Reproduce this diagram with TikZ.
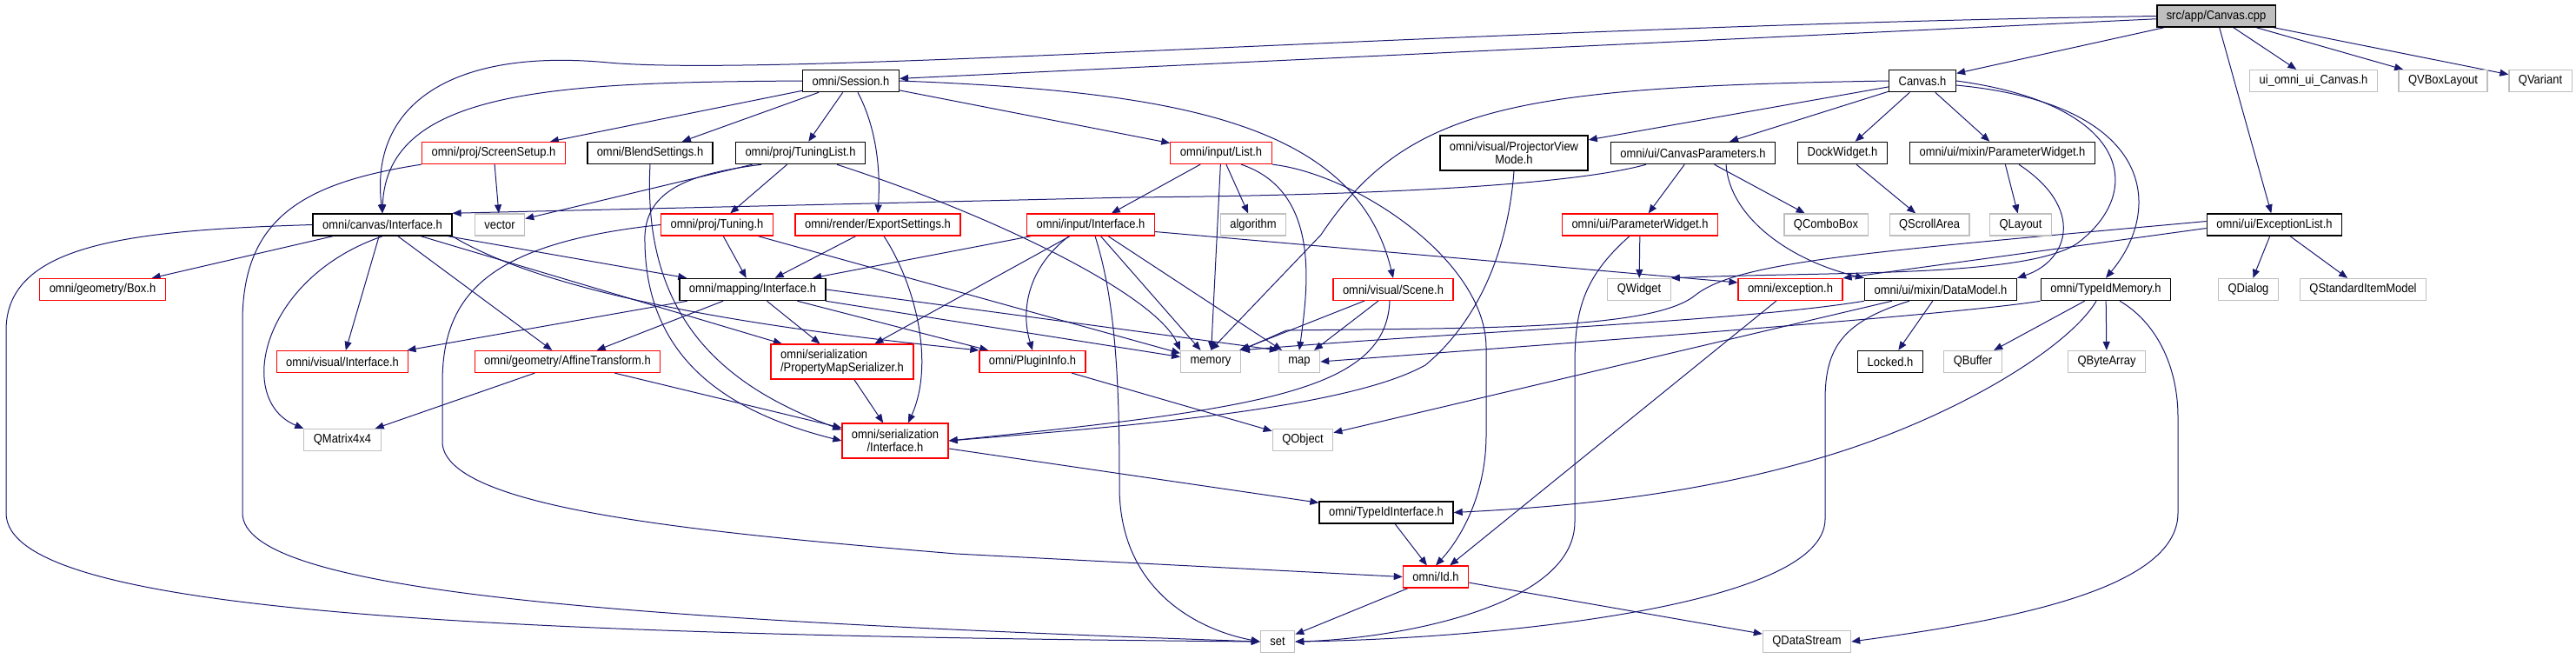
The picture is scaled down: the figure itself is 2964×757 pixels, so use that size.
\documentclass[tikz,border=0pt]{standalone}
\usepackage{fontspec}
\setmainfont{Liberation Sans}
\newfontfamily\depfont[FakeStretch=0.9]{Liberation Sans}
\usetikzlibrary{arrows.meta,calc}
\definecolor{depc}{RGB}{25,25,112}
\definecolor{sysc}{RGB}{191,191,191}
\pgfdeclarelayer{bg}
\pgfsetlayers{bg,main}

\begin{document}
\begin{tikzpicture}[x=0.5pt,y=-0.5pt,
  hfile/.style={draw,fill=white,line width=0.6pt,minimum height=12.5pt,inner xsep=5.5pt,inner ysep=1pt,font=\depfont\fontsize{7.2}{7.4}\selectfont},
  hdr/.style={hfile,draw=black,line width=0.75pt},
  trunc/.style={hfile,draw=red},
  sys/.style={hfile,draw=sysc},
  root/.style={hfile,draw=black,fill=sysc,line width=0.75pt},
  two/.style={minimum height=20pt,align=center},
  dep/.style={draw=depc,line width=0.5pt,-{Triangle[length=5pt,width=4pt]}}]
\useasboundingbox (0,0) rectangle (2964,757);
\node[root] (cpp) at (2550,18.5) {src/app/Canvas.cpp};
\node[hdr] (sess) at (979,93) {omni/Session.h};
\node[hdr] (cvh) at (2212,93) {Canvas.h};
\node[sys] (uic) at (2662,93) {ui\_omni\_ui\_Canvas.h};
\node[sys] (vbox) at (2811,93) {QVBoxLayout};
\node[sys] (qvar) at (2923,93) {QVariant};
\node[trunc] (scr) at (568,176) {omni/proj/ScreenSetup.h};
\node[hdr] (blend) at (748,176) {omni/BlendSettings.h};
\node[hdr] (tlist) at (921,176) {omni/proj/TuningList.h};
\node[trunc] (ilist) at (1405,176) {omni/input/List.h};
\node[hdr,two] (pvm) at (1742,176) {omni/visual/ProjectorView\\Mode.h};
\node[hdr] (cpar) at (1948,176) {omni/ui/CanvasParameters.h};
\node[hdr] (dock) at (2120,176) {DockWidget.h};
\node[hdr] (mpw) at (2304,176) {omni/ui/mixin/ParameterWidget.h};
\node[hdr] (civ) at (440,258.5) {omni/canvas/Interface.h};
\node[sys] (vec) at (575,258.5) {vector};
\node[trunc] (tun) at (825,258.5) {omni/proj/Tuning.h};
\node[trunc] (exp) at (1010,258.5) {omni/render/ExportSettings.h};
\node[trunc] (iif) at (1255,258.5) {omni/input/Interface.h};
\node[sys] (alg) at (1442,258.5) {algorithm};
\node[trunc] (upw) at (1887,258.5) {omni/ui/ParameterWidget.h};
\node[sys] (qcb) at (2101,258.5) {QComboBox};
\node[sys] (qsa) at (2220,258.5) {QScrollArea};
\node[sys] (qlay) at (2325,258.5) {QLayout};
\node[hdr] (elist) at (2617,258.5) {omni/ui/ExceptionList.h};
\node[trunc] (box) at (118,333) {omni/geometry/Box.h};
\node[hdr] (mif) at (866,333) {omni/mapping/Interface.h};
\node[trunc] (scene) at (1603,333) {omni/visual/Scene.h};
\node[sys] (qwid) at (1886,333) {QWidget};
\node[trunc] (exc) at (2060,333) {omni/exception.h};
\node[hdr] (dmod) at (2233,333) {omni/ui/mixin/DataModel.h};
\node[hdr] (tim) at (2423,333) {omni/TypeIdMemory.h};
\node[sys] (qdlg) at (2587,333) {QDialog};
\node[sys] (qsim) at (2719,333) {QStandardItemModel};
\node[trunc] (vif) at (394,416) {omni/visual/Interface.h};
\node[trunc] (aff) at (653,416) {omni/geometry/AffineTransform.h};
\node[trunc,two,align=left] (pms) at (969,416) {omni/serialization\\/PropertyMapSerializer.h};
\node[trunc] (plug) at (1188,416) {omni/PluginInfo.h};
\node[sys] (mem) at (1393,416) {memory};
\node[sys] (map) at (1495,416) {map};
\node[hdr] (lock) at (2175,416) {Locked.h};
\node[sys] (qbuf) at (2270,416) {QBuffer};
\node[sys] (qba) at (2424,416) {QByteArray};
\node[sys] (qmat) at (394,506) {QMatrix4x4};
\node[trunc,two] (sif) at (1030,507) {omni/serialization\\/Interface.h};
\node[sys] (qobj) at (1499,506) {QObject};
\node[hdr] (tii) at (1595,589.5) {omni/TypeIdInterface.h};
\node[trunc] (id) at (1652,663.5) {omni/Id.h};
\node[sys] (set) at (1470,738) {set};
\node[sys] (qds) at (2079,738) {QDataStream};
\begin{pgfonlayer}{bg}
\foreach \a/\b in {cpp/sess,cpp/cvh,cpp/uic,cpp/vbox,cpp/qvar,cpp/elist,
  sess/scr,sess/blend,sess/tlist,sess/ilist,scr/vec,tlist/vec,tlist/tun,
  ilist/iif,ilist/alg,ilist/mem,cvh/pvm,cvh/cpar,cvh/dock,cvh/mpw,
  cpar/upw,cpar/qcb,dock/qsa,mpw/qlay,upw/qwid,elist/qdlg,elist/qsim,
  civ/box,civ/vif,civ/aff,civ/mif,civ/pms,tun/mif,tun/mem,exp/mif,
  iif/mif,iif/pms,iif/mem,iif/map,mif/vif,mif/aff,mif/pms,mif/plug,mif/mem,
  scene/mem,scene/map,dmod/lock,dmod/qobj,tim/qbuf,tim/qba,
  aff/qmat,aff/sif,pms/sif,plug/qobj,sif/tii,tii/id,exc/id,id/set,id/qds}
  \draw[dep] (\a) -- (\b);
\draw[dep] (cpp.west) .. controls (1700,30) and (900,90) .. (700,72) .. controls (520,55) and (425,120) .. (civ.north);
\draw[dep] (sess.west) .. controls (650,95) and (445,100) .. (civ.north);
\draw[dep] (sess.east) .. controls (1350,105) and (1560,140) .. (scene.north);
\draw[dep] ($(sess.south)+(8,0)$) .. controls (1010,150) and (1013,200) .. (exp.north);
\draw[dep] ($(tlist.south)+(-45,0)$) .. controls (790,200) and (745,220) .. (742,270) .. controls (740,400) and (820,470) .. (sif.west);
\draw[dep] (blend.south) .. controls (738,380) and (850,450) .. ($(sif.north west)+(0,8)$);
\draw[dep] ($(tlist.south)+(42,0)$) .. controls (1150,250) and (1330,340) .. (mem.north west);
\draw[dep] (civ.west) .. controls (150,265) and (7,280) .. (7,380) -- (7,590) .. controls (7,700) and (500,730) .. (set.west);
\draw[dep] (scr.south west) .. controls (350,210) and (279,250) .. (279,370) -- (279,590) .. controls (279,680) and (700,712) .. (set.west);
\draw[dep] (civ.south) .. controls (300,320) and (270,460) .. (qmat.north west);
\draw[dep] (civ.south east) .. controls (650,350) and (950,385) .. (plug.north west);
\draw[dep] (tun.west) .. controls (560,280) and (509,340) .. (509,440) -- (509,510) .. controls (515,585) and (800,612) .. (1100,637) -- (id.west);
\draw[dep] ($(exp.south)+(7,0)$) .. controls (1055,330) and (1075,420) .. ($(sif.north)+(15,0)$);
\draw[dep] ($(ilist.south)+(23,0)$) .. controls (1520,220) and (1505,330) .. (map.north);
\draw[dep] (ilist.south east) .. controls (1560,200) and (1710,300) .. (1710,400) -- (1710,500) .. controls (1710,570) and (1680,620) .. (id.north);
\draw[dep] ($(iif.south)+(-25,0)$) .. controls (1180,310) and (1175,360) .. (plug.north);
\draw[dep] ($(iif.south)+(5,0)$) .. controls (1285,350) and (1288,450) .. (1288,560) .. controls (1288,680) and (1380,725) .. (set.west);
\draw[dep] ($(iif.east)+(0,8)$) -- ($(exc.west)+(0,-8)$);
\draw[dep] (mif.east) -- (map.north west);
\draw[dep] (cvh.west) .. controls (1750,100) and (1620,120) .. (1520,270) -- (mem.north);
\draw[dep] (cvh.east) .. controls (2450,120) and (2470,220) .. (2390,280) .. controls (2330,320) and (2100,312) .. (qwid.north east);
\draw[dep] ($(cvh.east)+(0,5)$) .. controls (2480,120) and (2490,240) .. (tim.north);
\draw[dep] ($(mpw.south)+(19,0)$) .. controls (2400,240) and (2380,300) .. (dmod.north east);
\draw[dep] ($(cpar.south)+(-54,0)$) .. controls (1800,215) and (1550,225) .. (1300,227) -- (civ.north east);
\draw[dep] ($(cpar.south)+(38,0)$) .. controls (1990,250) and (2060,300) .. (dmod.north west);
\draw[dep] ($(elist.west)+(0,4)$) -- (exc.north east);
\draw[dep] ($(elist.west)+(0,-4)$) .. controls (2150,290) and (2000,300) .. (1950,340) .. controls (1900,380) and (1700,377) .. (1480,380) -- (mem.north east);
\draw[dep] (pvm.south) .. controls (1735,290) and (1700,370) .. (1640,420) .. controls (1550,470) and (1300,490) .. (sif.east);
\draw[dep] ($(scene.south)+(-4,0)$) .. controls (1595,450) and (1450,470) .. (sif.east);
\draw[dep] ($(upw.south)+(-12,0)$) .. controls (1820,320) and (1812,360) .. (1812,420) -- (1812,600) .. controls (1812,700) and (1600,735) .. (set.east);
\draw[dep] ($(dmod.south)+(-36,0)$) .. controls (2120,370) and (2100,400) .. (2100,460) -- (2100,597) .. controls (2100,700) and (1700,735) .. (set.east);
\draw[dep] (dmod.south west) .. controls (2000,370) and (1700,380) .. (mem.north east);
\draw[dep] (tim.south west) .. controls (2250,362) and (1800,395) .. (map.east);
\draw[dep] ($(tim.south)+(-11,0)$) .. controls (2380,400) and (2250,480) .. (2100,525) .. controls (1950,570) and (1800,583) .. (tii.east);
\draw[dep] ($(tim.south)+(16,0)$) .. controls (2480,370) and (2506,420) .. (2506,480) -- (2506,590) .. controls (2506,680) and (2300,715) .. (qds.east);
\end{pgfonlayer}
\end{tikzpicture}
\end{document}
